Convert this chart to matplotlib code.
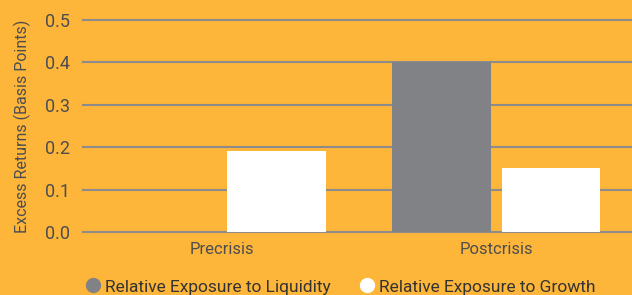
import matplotlib
matplotlib.use("Agg")
import matplotlib.pyplot as plt
import numpy as np

categories = ["Precrisis", "Postcrisis"]
liquidity = [0.0, 0.40]
growth = [0.19, 0.15]
series_names = ["Relative Exposure to Liquidity", "Relative Exposure to Growth"]
yticks = [0.0, 0.1, 0.2, 0.3, 0.4, 0.5]

BG = "#FDB53A"
GRAY = "#808285"
TEXT = "#4D4D4F"

plt.rcParams["font.family"] = ["Roboto", "DejaVu Sans"]

fig = plt.figure(figsize=(6.32, 2.95), dpi=100, facecolor=BG)
ax = fig.add_axes([83 / 632, 1 - 232 / 295, 1 - 83 / 632, 212 / 295])
ax.set_facecolor(BG)

x = np.arange(len(categories))
w = 0.36
ax.bar(x - 0.2, liquidity, width=w, color=GRAY, zorder=3)
ax.bar(x + 0.2, growth, width=w, color="white", zorder=3)

ax.set_xlim(-0.505, 1.495)
ax.set_ylim(0, 0.5)
ax.set_yticks(yticks)
ax.set_yticklabels([f"{v:.1f}" for v in yticks])
ax.set_xticks(x)
ax.set_xticklabels(categories)
ax.yaxis.grid(True, color="#8C8C8C", linewidth=1.5, zorder=0)
ax.set_axisbelow(True)
for s in ax.spines.values():
    s.set_visible(False)
ax.tick_params(axis="both", length=0, colors=TEXT)
ax.tick_params(axis="y", pad=9, labelsize=13)
ax.tick_params(axis="x", pad=7, labelsize=12)
# keep the 0.5 and 0.0 gridlines fully visible
for gl in ax.get_ygridlines():
    gl.set_clip_on(False)

ax.set_ylabel("Excess Returns (Basis Points)", fontsize=11.5, color=TEXT)
ax.yaxis.set_label_coords(-52 / 549, 0.5)

handles = [
    plt.Line2D([], [], marker="o", linestyle="", markersize=10, color=GRAY),
    plt.Line2D([], [], marker="o", linestyle="", markersize=10, color="white"),
]
fig.legend(handles, series_names, loc="center", bbox_to_anchor=(0.538, 1 - 287 / 295),
           ncol=2, frameon=False, fontsize=12.5, labelcolor="#333333",
           handletextpad=0.2, columnspacing=1.6, handlelength=1.0)

fig.savefig("out.png", dpi=100, facecolor=BG)
